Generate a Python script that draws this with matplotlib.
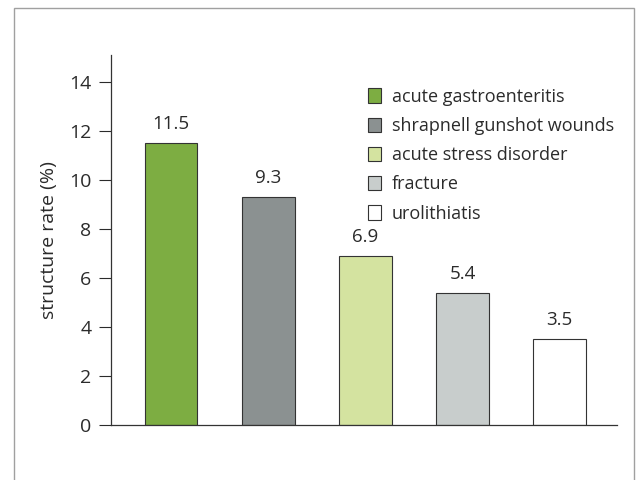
import matplotlib
matplotlib.use("Agg")
from matplotlib import pyplot, patches
import numpy as np

pyplot.rcParams["font.family"] = ["Open Sans", "DejaVu Sans"]

categories = ["acute gastroenteritis", "shrapnell gunshot wounds",
              "acute stress disorder", "fracture", "urolithiatis"]
rates = [11.5, 9.3, 6.9, 5.4, 3.5]
bar_colors = ["#7dad42", "#8b9191", "#d4e3a0", "#c8cdcc", "#ffffff"]
yticks = [0, 2, 4, 6, 8, 10, 12, 14]

text_color = "#2b2b2b"

fig = pyplot.figure(figsize=(6.39, 4.8), dpi=100)

# thin grey frame around the whole figure
frame = patches.Rectangle((14/639, -0.05), 620/639, 1 - 8/480 + 0.05,
                          transform=fig.transFigure, fill=False,
                          edgecolor="#a0a0a0", linewidth=1.0)
fig.patches.append(frame)

ax = fig.add_axes([111/639, 55/480, 506/639, 370/480])

x = np.arange(len(categories))
bars = ax.bar(x, rates, width=0.54, color=bar_colors, edgecolor="#333333",
              linewidth=0.8, label=categories)

for xi, value in zip(x, rates):
    ax.text(xi, value + 0.4, f"{value:.1f}", ha="center", va="bottom",
            fontsize=13.5, color=text_color)

ax.set_xlim(-0.62, 4.59)
ax.set_ylim(0, 15.1)
ax.set_yticks(yticks)
ax.set_xticks([])
ax.tick_params(axis="y", direction="out", length=9, width=0.8,
               labelsize=14, colors=text_color, pad=5)
ax.set_ylabel("structure rate (%)", fontsize=14, color=text_color, labelpad=8)

for side in ["top", "right"]:
    ax.spines[side].set_visible(False)
for side in ["left", "bottom"]:
    ax.spines[side].set_linewidth(0.9)
    ax.spines[side].set_color("#333333")

handles = [patches.Patch(facecolor=c, edgecolor="#333333", linewidth=0.8)
           for c in bar_colors]
ax.legend(handles, categories, loc="upper left", bbox_to_anchor=(0.475, 0.955),
          frameon=False, fontsize=13, handlelength=0.75, handleheight=0.85,
          handletextpad=0.6, labelspacing=0.62, labelcolor=text_color)

pyplot.savefig("out.png", dpi=100)
